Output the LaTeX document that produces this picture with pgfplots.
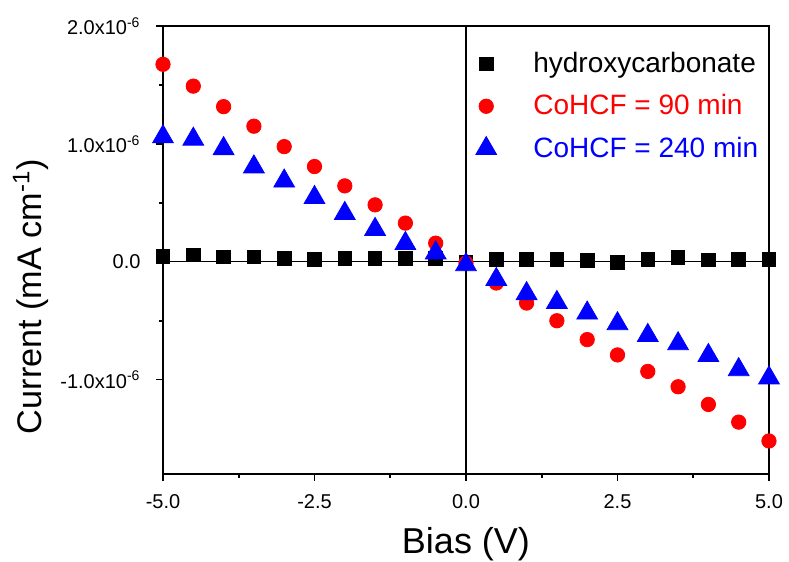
\documentclass[border=0pt]{standalone}
\usepackage{pgfplots}
\pgfplotsset{compat=1.18}
\usepackage{fontspec}
\setmainfont{Liberation Sans}

\pgfplotsset{
    wideleg/.style={legend image code/.code={%
        \draw[mark repeat=2,mark phase=2,##1]
            plot coordinates {(0cm,0cm) (0.3cm,0cm) (0.6cm,0cm)};
        \path (0cm,0cm) (1.05cm,0cm);}},
}

\begin{document}
\begin{tikzpicture}
% page size fixed to the reference proportions (axis box is 303pt x 224pt at the origin)
\useasboundingbox (-81.5pt,-44pt) rectangle (313pt,237pt);
\begin{axis}[
    at={(0pt,0pt)}, anchor=south west,
    scale only axis,
    width=303pt, height=224pt,
    xmin=-5, xmax=5,
    ymin=-1.8e-6, ymax=2.0e-6,
    scaled y ticks=false,
    axis line style={line width=1pt},
    xtick={-5,-2.5,0,2.5,5},
    xticklabels={-5.0,-2.5,0.0,2.5,5.0},
    ytick={-1e-6,0,1e-6,2e-6},
    yticklabels={-1.0x10\textsuperscript{-6},0.0,1.0x10\textsuperscript{-6},2.0x10\textsuperscript{-6}},
    minor x tick num=1, minor y tick num=1,
    tick align=outside,
    xtick pos=bottom, ytick pos=left,
    major tick length=3.5pt, minor tick length=2pt,
    tick style={line width=0.8pt, black},
    ticklabel style={font=\fontsize{10}{12}\selectfont},
    xticklabel style={yshift=-3pt},
    yticklabel style={xshift=-4.2pt},
    /pgf/number format/assume math mode=true,
    xlabel={Bias (V)},
    ylabel={Current (mA cm\textsuperscript{-1})},
    xlabel style={font=\fontsize{18}{21}\selectfont,
        at={(axis description cs:0.5,0)}, anchor=base, yshift=-40pt},
    ylabel style={font=\fontsize{17.1}{20}\selectfont,
        at={(axis description cs:0,0.396)}, anchor=base, yshift=60.5pt},
    legend style={draw=none, fill=none, at={(axis description cs:0.494,0.96)}, anchor=north west,
        font=\fontsize{14}{17}\selectfont, row sep=5.5pt},
    legend cell align=left,
]
\draw[line width=0.6pt] (axis cs:-5,0) -- (axis cs:5,0);
\draw[line width=0.6pt] (axis cs:0,-1.8e-6) -- (axis cs:0,2.0e-6);

\addplot[only marks, wideleg, mark=square*, mark size=3.4pt, black] coordinates {
    (-5,0.045e-6) (-4.5,0.06e-6) (-4,0.04e-6) (-3.5,0.04e-6) (-3,0.03e-6)
    (-2.5,0.02e-6) (-2,0.03e-6) (-1.5,0.03e-6) (-1,0.03e-6) (-0.5,0.03e-6)
    (0,0.0) (0.5,0.02e-6) (1,0.02e-6) (1.5,0.02e-6) (2,0.01e-6)
    (2.5,-0.005e-6) (3,0.02e-6) (3.5,0.035e-6) (4,0.015e-6) (4.5,0.02e-6) (5,0.02e-6)
};
\addlegendentry{hydroxycarbonate}

\addplot[only marks, wideleg, mark=*, mark size=3.6pt, red, mark options={draw=red, fill=red}] coordinates {
    (-5,1.675e-6) (-4.5,1.49e-6) (-4,1.316e-6) (-3.5,1.15e-6) (-3,0.977e-6)
    (-2.5,0.808e-6) (-2,0.644e-6) (-1.5,0.483e-6) (-1,0.328e-6) (-0.5,0.158e-6)
    (0,-0.01e-6) (0.5,-0.18e-6) (1,-0.35e-6) (1.5,-0.50e-6) (2,-0.66e-6)
    (2.5,-0.79e-6) (3,-0.93e-6) (3.5,-1.06e-6) (4,-1.21e-6) (4.5,-1.36e-6) (5,-1.52e-6)
};
\addlegendentry{\textcolor{red}{CoHCF = 90 min}}

\addplot[only marks, wideleg, mark=triangle*, mark size=6pt, blue, mark options={draw=blue, fill=blue}] coordinates {
    (-5,1.06e-6) (-4.5,1.04e-6) (-4,0.96e-6) (-3.5,0.805e-6) (-3,0.685e-6)
    (-2.5,0.545e-6) (-2,0.41e-6) (-1.5,0.275e-6) (-1,0.155e-6) (-0.5,0.075e-6)
    (0,-0.025e-6) (0.5,-0.15e-6) (1,-0.27e-6) (1.5,-0.345e-6) (2,-0.435e-6)
    (2.5,-0.525e-6) (3,-0.625e-6) (3.5,-0.695e-6) (4,-0.795e-6) (4.5,-0.915e-6) (5,-0.985e-6)
};
\addlegendentry{\textcolor{blue}{CoHCF = 240 min}}
\end{axis}
\end{tikzpicture}
\end{document}
